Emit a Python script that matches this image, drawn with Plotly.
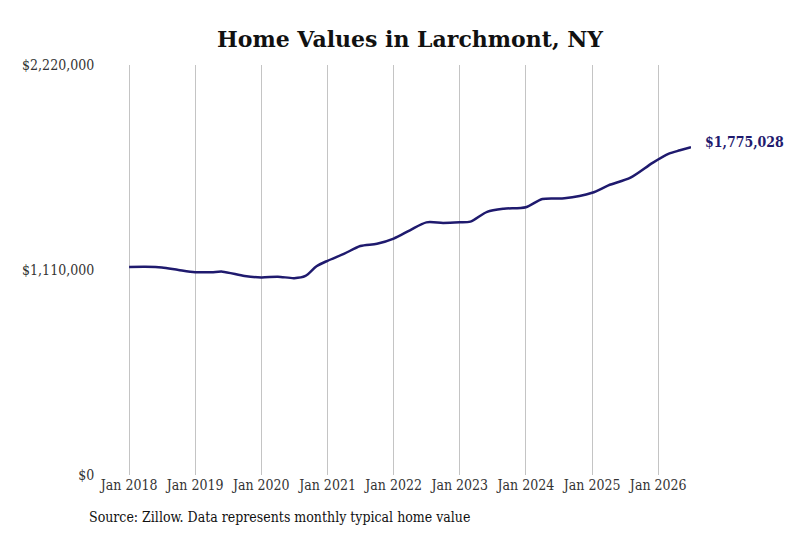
import plotly.graph_objects as go

# typical home value
dates = ['2018-01-01', '2018-04-01', '2018-07-01', '2018-10-01',
         '2019-01-01', '2019-04-01', '2019-06-01', '2019-10-01',
         '2020-01-01', '2020-04-01', '2020-07-01', '2020-09-01', '2020-11-01',
         '2021-01-01', '2021-04-01', '2021-07-01', '2021-10-01',
         '2022-01-01', '2022-04-01', '2022-07-01', '2022-10-01',
         '2023-01-01', '2023-03-01', '2023-06-01', '2023-09-01',
         '2024-01-01', '2024-04-01', '2024-08-01',
         '2025-01-01', '2025-04-01', '2025-08-01', '2025-12-01',
         '2026-03-01', '2026-05-01', '2026-07-01']
values = [1126000, 1127000, 1124000, 1110000,
          1098000, 1098000, 1101000, 1078000,
          1070000, 1074000, 1066000, 1078000, 1130000,
          1160000, 1197000, 1240000, 1252000,
          1280000, 1325000, 1368000, 1365000,
          1368000, 1372000, 1425000, 1442000,
          1450000, 1494000, 1498000,
          1528000, 1568000, 1610000, 1690000,
          1740000, 1758000, 1775028]

tick_years = list(range(2018, 2027))
tick_vals = [f'{y}-01-01' for y in tick_years]
tick_text = [f'Jan {y}' for y in tick_years]

y_ticks = [0, 1110000, 2220000]
y_text = ['$0', '$1,110,000', '$2,220,000']

navy = '#1f1a6e'
serif = 'DejaVu Serif Condensed, DejaVu Serif, serif'

fig = go.Figure()
fig.add_trace(go.Scatter(x=dates, y=values, mode='lines',
                         line=dict(color=navy, width=2.5, shape='spline', smoothing=0.8),
                         hoverinfo='skip', showlegend=False))

# label at the last point
fig.add_annotation(x=dates[-1], y=values[-1], text=f'<b>${values[-1]:,}</b>',
                   showarrow=False, xanchor='left', xshift=12, yshift=5,
                   font=dict(family=serif, size=14, color=navy))

fig.add_annotation(text='Source: Zillow. Data represents monthly typical home value',
                   xref='paper', yref='paper', x=-0.073, y=-0.102,
                   xanchor='left', yanchor='middle', showarrow=False,
                   font=dict(family=serif, size=14, color='#111111'))

fig.update_layout(
    width=800, height=533,
    margin=dict(l=120, r=117, t=57, b=66),
    paper_bgcolor='white', plot_bgcolor='white',
    title=dict(text='<b>Home Values in Larchmont, NY</b>', x=0.5025, xanchor='center',
               y=1 - 31 / 533, yanchor='middle',
               font=dict(family='DejaVu Serif', size=22, color='#111111')),
    font=dict(family=serif, size=14, color='#333333'),
)

fig.update_xaxes(range=['2017-12-26', '2026-07-01'], tickvals=tick_vals, ticktext=tick_text,
                 showgrid=True, gridcolor='#c4c4c4', gridwidth=1,
                 showline=False, zeroline=False, ticks='', tickfont=dict(size=14, color='#333333'))
fig.update_yaxes(range=[0, 2220000], tickvals=y_ticks, ticktext=y_text,
                 showgrid=False, zeroline=False, showline=False,
                 ticks='outside', ticklen=30, tickcolor='rgba(0,0,0,0)',
                 tickfont=dict(size=14, color='#333333'))

fig.write_html('out.html')
